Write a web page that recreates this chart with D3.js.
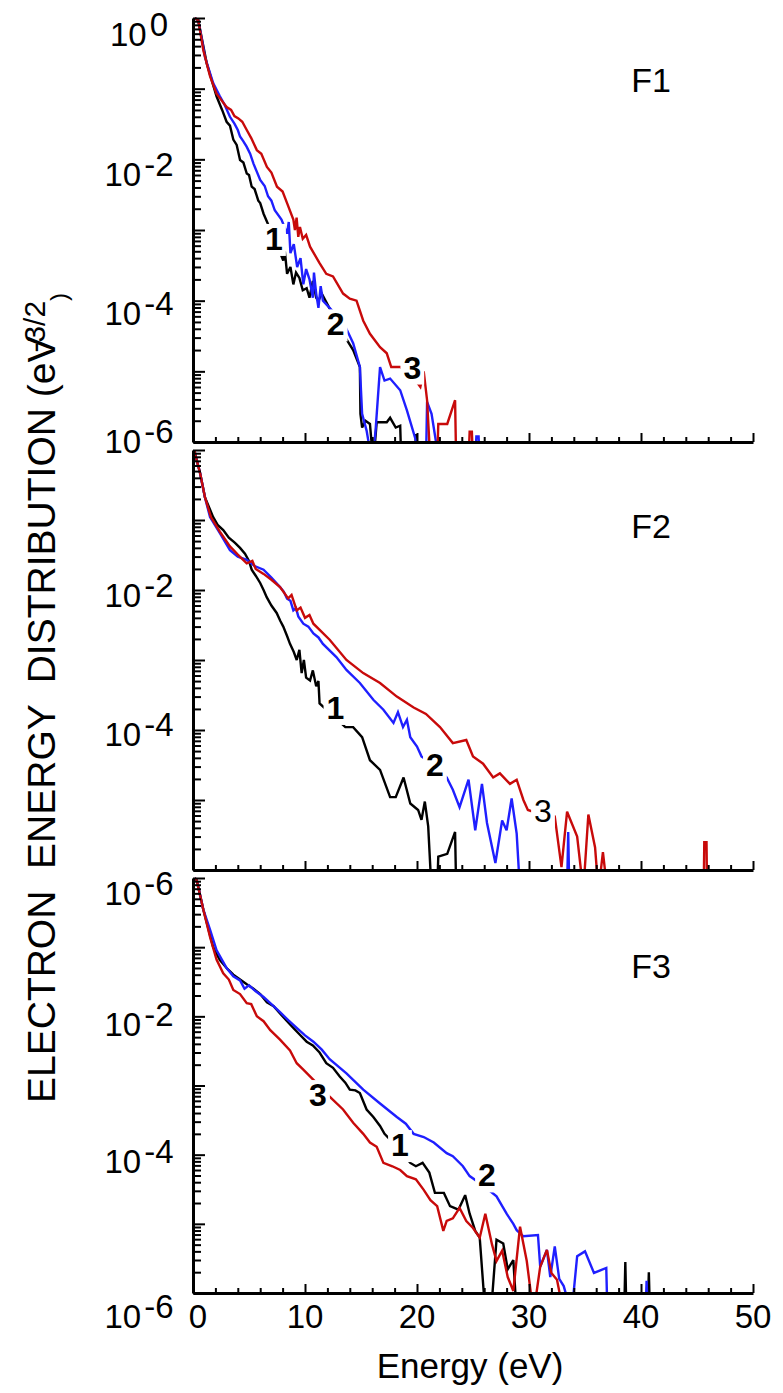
<!DOCTYPE html>
<html><head><meta charset="utf-8">
<script src="https://cdn.jsdelivr.net/npm/d3@7"></script>
<style>
body{margin:0;background:#fff}
svg{display:block}
text{font-family:"Liberation Sans",Arial,Helvetica,sans-serif;fill:#000}
</style>
</head><body>
<svg id="chart" width="783" height="1393"></svg>
<script>
// ---------------- DATA ----------------
const energyTicks = [0, 10, 20, 30, 40, 50];
const panelNames = ["F1", "F2", "F3"];
const seriesNames = ["1", "2", "3"];

// Panel F1  [energy eV, EEDF]
const f1Black = [[0.15,1.0],[0.47,0.93],[1.22,0.23],[2.1,7.8e-2],[2.6,5.0e-2],[3.0,3.4e-2],[3.3,3.0e-2],[3.6,1.9e-2],[3.9,1.6e-2],[4.2,9.8e-3],[4.5,9.0e-3],[4.8,6.3e-3],[5.0,6.0e-3],[5.24,4.1e-3],[5.5,3.8e-3],[5.83,2.6e-3],[6.0,2.4e-3],[6.3,1.7e-3],[7.2,7.9e-4],[8.06,3.7e-4],[8.2,5.0e-4],[8.4,2.4e-4],[8.7,3.0e-4],[8.96,1.7e-4],[9.2,2.5e-4],[9.5,2.1e-4],[9.8,1.4e-4],[10.15,1.5e-4],[10.4,1.1e-4],[10.7,1.9e-4],[11.0,1.1e-4],[11.2,1.0e-4],[11.5,1.26e-4],[12.5,6.3e-5],[13.5,3.2e-5],[14.3,2.0e-5],[14.9,1.15e-5],[14.95,2.5e-6],[15.1,1.6e-6],[15.4,2.0e-6],[15.8,1.8e-6],[16.1,5e-7],[16.4,1.9e-6],[17.3,1.9e-6],[17.6,2.2e-6],[18.1,1.6e-6],[18.5,1.7e-6],[18.6,5e-7],[19.8,5e-7],[19.9,1.3e-6],[20.0,5e-7]];
const f1Blue = [[0.15,1.0],[0.47,0.93],[1.07,0.28],[1.8,0.12],[2.4,7.8e-2],[2.8,6.0e-2],[3.3,4.0e-2],[3.7,3.2e-2],[4.0,2.6e-2],[4.2,2.1e-2],[4.5,1.8e-2],[4.8,1.5e-2],[5.1,1.2e-2],[5.4,8.7e-3],[6.0,5.1e-3],[6.4,4.2e-3],[6.7,3.0e-3],[7.0,2.6e-3],[7.3,1.9e-3],[7.9,1.4e-3],[8.4,8.9e-4],[8.55,1.3e-3],[8.7,4.7e-4],[9.0,6.3e-4],[9.3,3.0e-4],[9.6,4.0e-4],[9.85,1.7e-4],[10.1,2.8e-4],[10.4,2.0e-4],[10.7,1.1e-4],[10.8,2.5e-4],[11.0,1.26e-4],[11.2,7.9e-5],[11.4,1.6e-4],[11.6,1.0e-4],[12.5,7.0e-5],[13.6,4.3e-5],[14.3,2.5e-5],[14.9,1.15e-5],[15.1,2.5e-6],[15.5,1.45e-6],[16.0,5e-7],[16.3,1.45e-6],[16.7,1.15e-5],[17.1,7.4e-6],[17.6,7.9e-6],[18.5,5.4e-6],[19.1,2.8e-6],[19.9,1.05e-6],[20.0,5e-7],[20.8,5e-7],[20.9,3.7e-6],[21.3,2.5e-6],[22.0,5e-7],[25.2,5e-7],[25.3,1.2e-6],[25.5,1.2e-6],[25.6,5e-7]];
const f1Red = [[0.15,1.0],[0.47,0.93],[0.92,0.35],[1.52,0.15],[2.1,8.5e-2],[2.5,7.0e-2],[3.0,5.5e-2],[3.4,5.0e-2],[3.7,4.1e-2],[4.05,3.8e-2],[4.4,3.4e-2],[4.8,2.6e-2],[5.2,2.0e-2],[5.7,1.35e-2],[6.1,1.2e-2],[6.6,7.8e-3],[7.0,6.5e-3],[7.5,4.1e-3],[8.0,3.5e-3],[8.4,2.4e-3],[8.96,1.4e-3],[9.1,1.0e-3],[9.25,1.5e-3],[9.4,8.0e-4],[9.55,1.1e-3],[9.8,7.5e-4],[10.1,8.5e-4],[10.45,5.8e-4],[11.3,3.4e-4],[11.9,2.4e-4],[12.5,2.2e-4],[13.4,1.26e-4],[14.0,1.07e-4],[14.6,1.0e-4],[15.2,5.2e-5],[15.8,3.4e-5],[16.7,2.2e-5],[17.3,1.8e-5],[17.7,1.15e-5],[18.5,1.15e-5],[19.5,8.9e-6],[20.3,6.0e-6],[20.6,1.0e-5],[20.9,3.9e-6],[21.2,5e-7],[21.8,5e-7],[21.9,1.8e-6],[22.7,1.8e-6],[23.4,3.9e-6],[23.5,5e-7],[24.6,5e-7],[24.7,1.4e-6],[24.9,1.4e-6],[25.0,5e-7]];

// Panel F2
const f2Black = [[0.15,1.0],[0.18,0.89],[0.63,0.47],[1.07,0.21],[1.8,0.11],[2.2,8.5e-2],[2.7,7.2e-2],[3.2,5.6e-2],[3.75,4.7e-2],[4.2,4.0e-2],[4.64,3.3e-2],[5.0,2.6e-2],[5.24,1.95e-2],[5.6,1.6e-2],[6.0,1.26e-2],[6.3,1.0e-2],[6.58,7.9e-3],[7.0,6.0e-3],[7.47,4.7e-3],[7.8,3.6e-3],[8.06,3.0e-3],[8.4,2.2e-3],[8.66,1.7e-3],[9.0,1.3e-3],[9.26,1.0e-3],[9.5,1.4e-3],[9.7,6.5e-4],[9.9,1.0e-3],[10.1,5.6e-4],[10.45,5.1e-4],[10.7,7.1e-4],[11.0,4.2e-4],[11.2,5.0e-4],[11.3,2.4e-4],[12.5,1.6e-4],[13.6,1.1e-4],[14.3,1.1e-4],[15.1,7.9e-5],[15.8,3.7e-5],[16.7,2.7e-5],[17.6,1.1e-5],[18.1,1.1e-5],[18.8,2.1e-5],[19.4,8.9e-6],[20.1,7.2e-6],[20.4,5.2e-6],[20.7,9.5e-6],[21.0,4.2e-6],[21.3,5e-7],[21.8,5e-7],[21.9,1.55e-6],[22.7,1.7e-6],[23.4,3.5e-6],[23.5,5e-7]];
const f2Blue = [[0.15,1.0],[0.18,0.89],[0.63,0.47],[1.07,0.21],[1.52,0.11],[2.4,6.5e-2],[3.3,3.7e-2],[4.0,3.0e-2],[4.8,2.7e-2],[5.5,2.2e-2],[6.3,1.95e-2],[7.0,1.5e-2],[7.77,1.1e-2],[8.1,9.5e-3],[8.4,7.5e-3],[8.7,7.0e-3],[8.96,5.1e-3],[9.2,5.5e-3],[9.4,4.2e-3],[9.85,3.3e-3],[10.3,3.0e-3],[10.75,2.4e-3],[11.2,2.1e-3],[11.6,1.7e-3],[12.8,1.1e-3],[13.7,7.2e-4],[14.9,4.7e-4],[16.1,2.7e-4],[17.0,1.95e-4],[17.9,1.26e-4],[18.3,1.8e-4],[18.75,1.1e-4],[19.1,1.4e-4],[19.4,7.9e-5],[20.0,5.8e-5],[20.4,4.2e-5],[21.5,3.2e-5],[22.65,2.1e-5],[23.2,1.4e-5],[23.8,7.9e-6],[24.6,1.95e-5],[25.2,3.7e-6],[25.8,1.7e-5],[26.25,4.7e-6],[27.0,1.26e-6],[27.6,5.1e-6],[28.0,3.7e-6],[28.45,1.05e-5],[28.9,3.3e-6],[29.2,5e-7],[33.4,5e-7],[33.5,3.5e-6],[33.6,5e-7]];
const f2Red = [[0.15,1.0],[0.18,0.89],[0.63,0.47],[1.07,0.21],[1.6,0.11],[2.4,6.8e-2],[3.3,4.2e-2],[4.0,3.2e-2],[4.8,2.4e-2],[5.3,2.6e-2],[5.6,2.0e-2],[6.3,1.7e-2],[7.0,1.4e-2],[7.77,1.1e-2],[8.5,7.6e-3],[8.8,8.5e-3],[9.26,5.1e-3],[9.6,5.6e-3],[10.0,4.0e-3],[10.4,4.4e-3],[10.75,3.3e-3],[12.2,1.95e-3],[13.7,1.0e-3],[15.2,6.5e-4],[16.7,4.7e-4],[18.2,3.0e-4],[19.7,2.1e-4],[20.8,1.7e-4],[22.05,1.1e-4],[23.2,6.5e-5],[24.4,7.2e-5],[25.0,4.2e-5],[25.9,3.3e-5],[26.8,2.1e-5],[27.4,2.4e-5],[28.3,1.7e-5],[28.9,1.95e-5],[29.5,1.0e-5],[29.9,7.2e-6],[31.0,6.3e-6],[32.3,5.8e-6],[32.9,1.1e-6],[33.4,6.8e-6],[34.3,3.0e-6],[34.85,5e-7],[35.3,6.2e-6],[35.9,2.1e-6],[36.2,5e-7],[36.6,1.8e-6],[37.0,5e-7],[45.6,5e-7],[45.65,2.5e-6],[45.85,2.5e-6],[45.9,5e-7]];

// Panel F3
const f3Black = [[0.15,1.0],[0.33,0.93],[0.92,0.35],[1.8,0.1],[2.4,6.5e-2],[3.0,5.0e-2],[3.6,4.0e-2],[4.2,3.4e-2],[4.8,2.9e-2],[5.4,2.5e-2],[6.0,2.1e-2],[6.6,1.6e-2],[7.2,1.4e-2],[7.77,1.1e-2],[8.4,8.5e-3],[8.96,6.8e-3],[9.5,5.5e-3],[10.15,4.3e-3],[10.7,3.8e-3],[11.3,3.0e-3],[11.9,2.1e-3],[12.5,1.8e-3],[13.1,1.35e-3],[13.6,1.1e-3],[14.0,8.7e-4],[14.5,8.5e-4],[14.9,7.8e-4],[15.5,4.5e-4],[16.1,3.5e-4],[16.7,2.6e-4],[17.1,2.0e-4],[18.3,1.26e-4],[19.4,7.6e-5],[19.9,6.8e-5],[20.5,7.6e-5],[21.1,5.5e-5],[21.6,2.8e-5],[22.4,2.8e-5],[22.95,1.8e-5],[23.7,1.6e-5],[24.3,2.6e-5],[24.7,1.4e-5],[25.2,7.9e-6],[25.6,6.3e-6],[26.1,5e-7],[26.6,5e-7],[27.1,5.9e-6],[27.7,5.2e-6],[28.1,2.2e-6],[28.6,3.0e-6],[28.9,5e-7],[38.5,5e-7],[38.6,2.8e-6],[38.7,5e-7],[40.6,5e-7],[40.7,2.0e-6],[40.8,5e-7]];
const f3Blue = [[0.15,1.0],[0.33,0.93],[0.92,0.35],[1.52,0.18],[2.1,9.1e-2],[2.6,6.5e-2],[3.0,5.0e-2],[3.6,3.8e-2],[4.2,3.3e-2],[4.6,2.5e-2],[5.0,2.8e-2],[5.6,2.3e-2],[6.3,1.9e-2],[7.0,1.5e-2],[7.77,1.15e-2],[8.5,8.8e-3],[9.26,6.8e-3],[10.0,5.3e-3],[10.75,4.3e-3],[11.5,3.3e-3],[12.2,2.4e-3],[13.7,1.5e-3],[15.2,8.7e-4],[16.7,5.5e-4],[18.2,3.5e-4],[19.0,2.8e-4],[19.7,2.0e-4],[20.6,1.8e-4],[21.5,1.5e-4],[22.65,1.05e-4],[23.2,9.5e-5],[24.1,6.8e-5],[24.7,4.9e-5],[26.0,3.5e-5],[27.1,2.5e-5],[28.0,1.4e-5],[28.6,1.0e-5],[28.9,8.1e-6],[29.5,6.6e-6],[30.8,6.9e-6],[31.0,2.4e-6],[31.6,4.2e-6],[31.9,1.7e-6],[32.3,4.7e-6],[32.7,1.6e-6],[33.1,1.26e-6],[33.8,5e-7],[34.3,3.4e-6],[35.0,4.0e-6],[35.8,1.95e-6],[36.9,2.3e-6],[37.0,5e-7],[40.4,5e-7],[40.5,1.5e-6],[40.6,5e-7]];
const f3Red = [[0.15,1.0],[0.33,0.93],[0.92,0.35],[1.52,0.14],[2.1,6.6e-2],[2.7,4.2e-2],[3.2,3.4e-2],[3.6,2.4e-2],[4.2,2.1e-2],[4.8,1.55e-2],[5.2,1.5e-2],[5.7,1.0e-2],[6.3,8.5e-3],[6.9,6.3e-3],[7.77,4.6e-3],[8.66,3.2e-3],[9.26,2.1e-3],[9.85,1.7e-3],[11.0,1.1e-3],[12.2,6.9e-4],[13.4,4.5e-4],[14.3,2.9e-4],[15.2,2.0e-4],[15.8,1.5e-4],[16.4,1.3e-4],[17.0,7.6e-5],[17.8,6.8e-5],[18.5,6.0e-5],[19.1,4.9e-5],[19.9,4.4e-5],[20.6,3.1e-5],[21.2,2.2e-5],[21.8,1.8e-5],[22.35,7.9e-6],[22.65,1.1e-5],[23.2,1.2e-5],[23.8,1.7e-5],[24.4,1.1e-5],[25.0,8.7e-6],[25.6,6.3e-6],[26.1,1.4e-5],[26.7,5.0e-6],[27.1,2.9e-6],[27.6,4.1e-6],[28.1,1.7e-6],[28.6,1.07e-6],[29.2,9.1e-6],[29.8,2.9e-6],[30.4,5e-7],[31.0,2.4e-6],[31.6,4.2e-6],[32.0,1.95e-6],[32.5,1.55e-6],[33.1,5e-7]];

// curve number labels, anchored in data coordinates [energy, EEDF]
const f1LabelAt = [[7.23,7.6e-4],[12.74,4.7e-5],[19.58,1.15e-5]];
const f2LabelAt = [[12.72,2.1e-4],[21.6,3.2e-5],[31.25,7.2e-6]];
const f3LabelAt = [[18.48,1.4e-4],[26.25,5.1e-5],[11.16,7.4e-4]];

// y tick labels per panel: [value, exponent text]
const f1YLabels = [[1,"0"],[1e-2,"-2"],[1e-4,"-4"],[1e-6,"-6"]];
const f2YLabels = [[1e-2,"-2"],[1e-4,"-4"]];
const f3YLabels = [[1,"-6"],[1e-2,"-2"],[1e-4,"-4"],[1e-6,"-6"]];

// ---------------- LAYOUT ----------------
const svg = d3.select("#chart");
const X0 = 193, X1 = 753;
const x = d3.scaleLinear().domain([0, 50]).range([X0, X1]);
const colors = ["#000000", "#1f1fff", "#c80a0a"];

const panels = [
  {name: panelNames[0], top: 18,  bottom: 442, data: [f1Black, f1Blue, f1Red], labels: f1LabelAt, bold: [true,true,true],
   yLabels: f1YLabels, yLabelDy: [28,27,24,11], title: {x: 651, y: 92}},
  {name: panelNames[1], top: 450, bottom: 870, data: [f2Black, f2Blue, f2Red], labels: f2LabelAt, bold: [true,true,false],
   yLabels: f2YLabels, yLabelDy: [17,16], title: {x: 651, y: 538}},
  {name: panelNames[2], top: 878, bottom: 1293, data: [f3Black, f3Blue, f3Red], labels: f3LabelAt, bold: [true,true,true],
   yLabels: f3YLabels, yLabelDy: [27,20,18,35], title: {x: 651, y: 978}}
];

const minors = [];
for (let e = -6; e < 0; e++) for (let m = 2; m <= 9; m++) minors.push(m * Math.pow(10, e));
const decades = [1e-6,1e-5,1e-4,1e-3,1e-2,1e-1,1];
const xMinor = d3.range(0, 51, 2).filter(v => v % 10 !== 0);

panels.forEach((p, i) => {
  const y = d3.scaleLog().domain([1e-6, 1]).range([p.bottom, p.top]);
  const g = svg.append("g");

  const cid = "clip" + i;
  svg.append("defs").append("clipPath").attr("id", cid)
    .append("rect").attr("x", X0).attr("y", p.top - 2).attr("width", X1 - X0 + 2).attr("height", p.bottom - p.top + 2);

  const line = d3.line().x(d => x(d[0])).y(d => y(Math.max(d[1], 1e-7)));
  const lg = g.append("g").attr("clip-path", `url(#${cid})`);
  [0, 1, 2].forEach(k => {
    lg.append("path").datum(p.data[k]).attr("d", line)
      .attr("fill", "none").attr("stroke", colors[k]).attr("stroke-width", 2.4)
      .attr("stroke-linejoin", "miter").attr("stroke-miterlimit", 3);
  });

  // curve labels with white box
  p.labels.forEach((d, k) => {
    const t = g.append("text").attr("x", x(d[0])).attr("y", y(d[1])).attr("dy", "0.36em")
      .attr("text-anchor", "middle").style("font-size", "32px")
      .style("font-weight", p.bold[k] ? "bold" : "normal").text(seriesNames[k]);
    const b = t.node().getBBox();
    g.insert("rect", () => t.node()).attr("x", b.x - 3).attr("y", b.y + 3).attr("width", b.width + 6).attr("height", b.height - 4)
      .attr("fill", "#fff");
  });

  // y axis (ticks point inside)
  const ax = g.append("g").attr("transform", `translate(${X0},0)`);
  ax.call(d3.axisRight(y).tickValues(decades).tickSize(12).tickSizeOuter(0).tickFormat(""));
  const ax2 = g.append("g").attr("transform", `translate(${X0},0)`);
  ax2.call(d3.axisRight(y).tickValues(minors).tickSize(8).tickSizeOuter(0).tickFormat(""));
  ax2.select(".domain").remove();
  [ax, ax2].forEach(a => {
    a.selectAll("line").attr("stroke", "#000").attr("stroke-width", 2);
    a.select(".domain").attr("stroke", "#000").attr("stroke-width", 3);
  });

  // x axis (ticks point up)
  const bx = g.append("g").attr("transform", `translate(0,${p.bottom})`);
  bx.call(d3.axisTop(x).tickValues(energyTicks).tickSize(9).tickSizeOuter(0).tickFormat(""));
  const bx2 = g.append("g").attr("transform", `translate(0,${p.bottom})`);
  bx2.call(d3.axisTop(x).tickValues(xMinor).tickSize(5).tickSizeOuter(0).tickFormat(""));
  bx2.select(".domain").remove();
  [bx, bx2].forEach(a => {
    a.selectAll("line").attr("stroke", "#000").attr("stroke-width", 2);
    a.select(".domain").attr("stroke", "#000").attr("stroke-width", 3);
  });

  // y tick labels
  p.yLabels.forEach((d, k) => {
    const t = g.append("text").attr("x", 139).attr("y", y(d[0]) + p.yLabelDy[k])
      .attr("text-anchor", "middle").style("font-size", "33px");
    t.append("tspan").text("10");
    t.append("tspan").attr("dy", -10).attr("dx", 3).text(d[1]);
  });

  // panel name
  g.append("text").attr("x", p.title.x).attr("y", p.title.y).attr("text-anchor", "middle")
    .style("font-size", "34px").text(p.name);

  // x tick labels only on the bottom panel
  if (i === 2) {
    g.selectAll(".xl").data(energyTicks).enter().append("text")
      .attr("x", d => x(d) + (d === 0 ? 5 : 0)).attr("y", p.bottom + 35)
      .attr("text-anchor", "middle").style("font-size", "33px").text(d => d);
  }
});

// axis titles
svg.append("text").attr("x", 470).attr("y", 1378).attr("text-anchor", "middle")
  .style("font-size", "35px").text("Energy (eV)");

const yt = svg.append("text").attr("transform", "translate(55,1103) rotate(-90)")
  .style("font-size", "39px").style("white-space", "pre");
yt.append("tspan").text("ELECTRON  ENERGY  DISTRIBUTION (eV");
yt.append("tspan").attr("dx", -16).attr("dy", -10).style("font-size", "30px").text("-3/2");
yt.append("tspan").attr("dy", 22).style("font-size", "24px").text(")");
</script>
</body></html>
